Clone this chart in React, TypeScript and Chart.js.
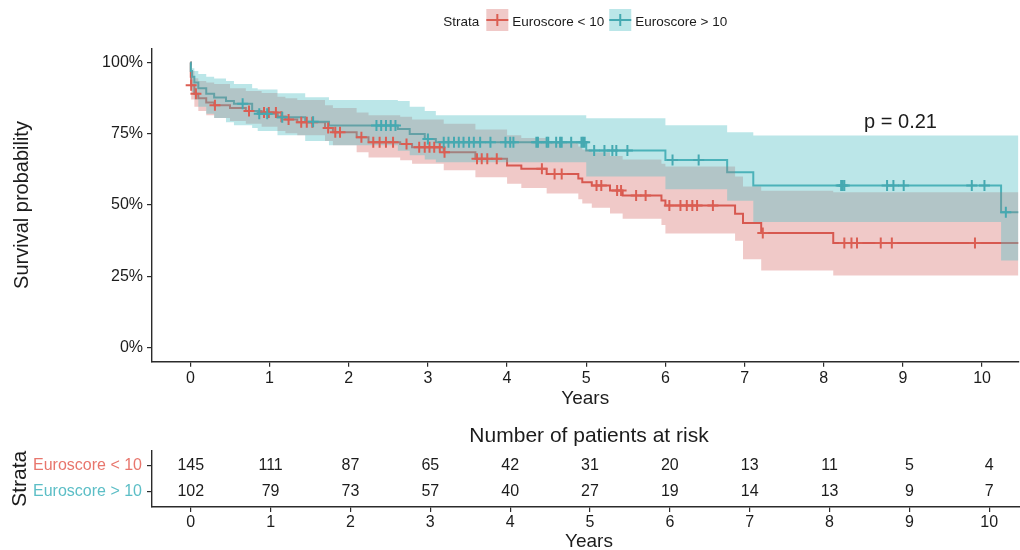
import React, { useEffect, useRef } from 'react';
import { Chart, registerables } from 'chart.js';

Chart.register(...registerables);

const FONT = '"Liberation Sans", Arial, Helvetica, sans-serif';

const strataLabels = ['Euroscore < 10', 'Euroscore > 10'];
const legendTitle = 'Strata';
const riskTitle = 'Number of patients at risk';
const xTitle = 'Years';
const yTitle = 'Survival probability';
const xTickValues = [0, 1, 2, 3, 4, 5, 6, 7, 8, 9, 10];
const yTickValues = [0, 0.25, 0.5, 0.75, 1];
const yTickLabels = ['0%', '25%', '50%', '75%', '100%'];

// Euroscore < 10 : Kaplan-Meier steps and confidence band
const redTimes = [0, 0.005, 0.01, 0.05, 0.1, 0.2, 0.3, 0.5, 0.7, 0.9, 1.1, 1.2, 1.35, 1.7, 1.8, 2.1, 2.25, 2.65, 2.8, 3.2, 3.6, 4.0, 4.18, 4.5, 4.9, 4.95, 5.07, 5.3, 5.46, 5.95, 6.0, 6.88, 6.98, 7.21, 8.12];
const redSurv = [1, 0.95, 0.92, 0.89, 0.875, 0.86, 0.85, 0.84, 0.83, 0.825, 0.81, 0.8, 0.79, 0.77, 0.755, 0.738, 0.72, 0.714, 0.703, 0.685, 0.662, 0.639, 0.627, 0.609, 0.593, 0.58, 0.568, 0.551, 0.533, 0.516, 0.498, 0.469, 0.437, 0.402, 0.367];
const redLower = [1, 0.9, 0.87, 0.845, 0.83, 0.815, 0.805, 0.795, 0.785, 0.775, 0.76, 0.752, 0.745, 0.725, 0.71, 0.685, 0.667, 0.657, 0.645, 0.622, 0.597, 0.575, 0.56, 0.54, 0.52, 0.505, 0.49, 0.47, 0.452, 0.43, 0.4, 0.375, 0.31, 0.27, 0.253];
const redUpper = [1, 0.99, 0.97, 0.945, 0.935, 0.93, 0.925, 0.91, 0.9, 0.893, 0.88, 0.875, 0.868, 0.85, 0.84, 0.825, 0.815, 0.81, 0.8, 0.785, 0.765, 0.745, 0.735, 0.72, 0.705, 0.695, 0.685, 0.672, 0.66, 0.645, 0.635, 0.6, 0.565, 0.55, 0.545];
const redCensorTimes = [0.01, 0.07, 0.31, 0.74, 0.93, 0.99, 1.08, 1.15, 1.24, 1.4, 1.47, 1.54, 1.74, 1.83, 1.89, 2.16, 2.31, 2.39, 2.47, 2.56, 2.73, 2.89, 2.96, 3.02, 3.08, 3.15, 3.21, 3.62, 3.68, 3.75, 3.87, 4.44, 4.6, 4.69, 5.13, 5.19, 5.39, 5.44, 5.63, 5.75, 6.05, 6.19, 6.27, 6.34, 6.4, 6.6, 7.23, 8.26, 8.35, 8.42, 8.72, 8.86, 9.91];

// Euroscore > 10
const tealTimes = [0, 0.005, 0.02, 0.05, 0.1, 0.2, 0.3, 0.45, 0.55, 0.78, 0.85, 1.1, 1.45, 1.75, 2.62, 2.77, 2.96, 3.1, 5.0, 6.0, 6.78, 7.11, 10.24];
const tealSurv = [1, 0.97, 0.95, 0.93, 0.91, 0.89, 0.877, 0.865, 0.855, 0.83, 0.82, 0.808, 0.792, 0.779, 0.767, 0.749, 0.732, 0.72, 0.691, 0.658, 0.615, 0.568, 0.475];
const tealLower = [1, 0.92, 0.895, 0.87, 0.845, 0.82, 0.805, 0.79, 0.78, 0.77, 0.76, 0.745, 0.725, 0.71, 0.69, 0.675, 0.66, 0.65, 0.6, 0.555, 0.515, 0.44, 0.305];
const tealUpper = [1, 0.99, 0.98, 0.97, 0.96, 0.95, 0.944, 0.935, 0.925, 0.91, 0.905, 0.892, 0.878, 0.868, 0.865, 0.845, 0.83, 0.815, 0.804, 0.78, 0.755, 0.744, 0.744];
const tealCensorTimes = [0.66, 0.87, 0.97, 1.16, 1.55, 2.35, 2.41, 2.47, 2.53, 2.59, 3.0, 3.2, 3.26, 3.33, 3.39, 3.45, 3.52, 3.58, 3.66, 3.79, 3.98, 4.04, 4.08, 4.37, 4.39, 4.5, 4.52, 4.62, 4.67, 4.69, 4.81, 4.94, 4.96, 4.98, 5.1, 5.23, 5.33, 5.38, 5.52, 6.09, 6.42, 8.22, 8.24, 8.26, 8.8, 8.88, 9.01, 9.87, 10.03, 10.3];

// Number at risk table
const riskTimes = [0, 1, 2, 3, 4, 5, 6, 7, 8, 9, 10];
const riskRed = [145, 111, 87, 65, 42, 31, 20, 13, 11, 5, 4];
const riskTeal = [102, 79, 73, 57, 40, 27, 19, 14, 13, 9, 7];

const pValueLabel = 'p = 0.21';
const pValueX = 8.97;
const pValueY = 0.79;

const xMin = -0.485;
const xMax = 10.46;

const RED = '#DB5E53';
const TEAL = '#45A9B1';
const RED_FILL = 'rgba(205,75,72,0.3)';
const TEAL_FILL = 'rgba(85,192,198,0.4)';
const RED_TEXT = '#E8766D';
const TEAL_TEXT = '#5CBEC6';
const AXIS = '#2b2b2b';
const TEXT = '#1c1c1c';

function survAt(times: number[], vals: number[], t: number) {
  let v = vals[0];
  for (let i = 0; i < times.length; i++) if (times[i] <= t) v = vals[i];
  return v;
}

function stepPts(times: number[], vals: number[]) {
  const pts = times.map((t, i) => ({ x: t, y: vals[i] }));
  pts.push({ x: xMax, y: vals[vals.length - 1] });
  return pts;
}

const axisGrid = { display: true, drawOnChartArea: false, drawTicks: true, tickLength: 5, color: AXIS, lineWidth: 1.2 };
const axisBorder = { display: true, color: AXIS, width: 1.4 };

export default function App() {
  const mainRef = useRef<HTMLCanvasElement>(null);
  const tableRef = useRef<HTMLCanvasElement>(null);

  useEffect(() => {
    document.body.style.margin = '0';
    Chart.defaults.font.family = FONT;
    Chart.defaults.color = TEXT;

    const lineDs = (ts: number[], vs: number[], color: string, order: number) => ({
      type: 'line', data: stepPts(ts, vs), borderColor: color, borderWidth: 2, stepped: 'before',
      pointRadius: 0, fill: false, order,
    });
    const lowerDs = (ts: number[], vs: number[], order: number) => ({
      type: 'line', data: stepPts(ts, vs), borderColor: 'rgba(0,0,0,0)', borderWidth: 0, stepped: 'before',
      pointRadius: 0, fill: false, order,
    });
    const upperDs = (ts: number[], vs: number[], target: number, color: string, order: number) => ({
      type: 'line', data: stepPts(ts, vs), borderColor: 'rgba(0,0,0,0)', borderWidth: 0, stepped: 'before',
      pointRadius: 0, fill: target, backgroundColor: color, order,
    });
    const censorDs = (ts: number[], vs: number[], ct: number[], color: string, order: number) => ({
      type: 'line', data: ct.map((t) => ({ x: t, y: survAt(ts, vs, t) })), showLine: false,
      pointStyle: 'cross', pointRadius: 5.5, pointBorderWidth: 2, pointBorderColor: color,
      pointBackgroundColor: color, borderColor: color, fill: false, order,
    });

    const decorPlugin = {
      id: 'kmDecor',
      afterDraw(chart: any) {
        const { ctx, scales, chartArea } = chart;
        ctx.save();
        // p-value
        ctx.font = `20px ${FONT}`;
        ctx.fillStyle = TEXT;
        ctx.textAlign = 'center';
        ctx.textBaseline = 'middle';
        ctx.fillText(pValueLabel, scales.x.getPixelForValue(pValueX), scales.y.getPixelForValue(pValueY));
        // legend
        ctx.font = `13.5px ${FONT}`;
        ctx.textAlign = 'left';
        ctx.textBaseline = 'alphabetic';
        const keyW = 22;
        const wT = ctx.measureText(legendTitle).width;
        const w1 = ctx.measureText(strataLabels[0]).width;
        const w2 = ctx.measureText(strataLabels[1]).width;
        const total = wT + 7 + keyW + 4 + w1 + 5 + keyW + 4 + w2;
        let x = (chartArea.left + chartArea.right) / 2 - total / 2;
        const cy = 20;
        const base = 26;
        ctx.fillText(legendTitle, x, base);
        x += wT + 7;
        const drawKey = (kx: number, fillC: string, lineC: string) => {
          ctx.fillStyle = fillC;
          ctx.fillRect(kx, cy - 11, keyW, keyW);
          ctx.strokeStyle = lineC;
          ctx.lineWidth = 2;
          ctx.beginPath();
          ctx.moveTo(kx, cy);
          ctx.lineTo(kx + keyW, cy);
          ctx.moveTo(kx + keyW / 2, cy - 6);
          ctx.lineTo(kx + keyW / 2, cy + 6);
          ctx.stroke();
        };
        drawKey(x, RED_FILL, RED);
        x += keyW + 4;
        ctx.fillStyle = TEXT;
        ctx.fillText(strataLabels[0], x, base);
        x += w1 + 5;
        drawKey(x, TEAL_FILL, TEAL);
        x += keyW + 4;
        ctx.fillStyle = TEXT;
        ctx.fillText(strataLabels[1], x, base);
        ctx.restore();
      },
    };

    const main = new Chart(mainRef.current as HTMLCanvasElement, {
      type: 'line',
      data: {
        datasets: [
          lineDs(redTimes, redSurv, RED, 7),
          lineDs(tealTimes, tealSurv, TEAL, 6),
          lowerDs(redTimes, redLower, 5),
          upperDs(redTimes, redUpper, 2, RED_FILL, 4),
          lowerDs(tealTimes, tealLower, 3),
          upperDs(tealTimes, tealUpper, 4, TEAL_FILL, 2),
          censorDs(redTimes, redSurv, redCensorTimes, RED, 1),
          censorDs(tealTimes, tealSurv, tealCensorTimes, TEAL, 0),
        ] as any,
      },
      options: {
        responsive: false,
        animation: false,
        devicePixelRatio: 1,
        events: [],
        layout: { padding: { top: 48.25, right: 0, bottom: 0, left: 0 } },
        plugins: { legend: { display: false }, tooltip: { enabled: false }, title: { display: false } },
        scales: {
          x: {
            type: 'linear', min: xMin, max: xMax,
            afterBuildTicks: (s: any) => { s.ticks = xTickValues.map((v) => ({ value: v })); },
            afterFit: (s: any) => { s.height = 58.25; },
            grid: axisGrid, border: axisBorder,
            ticks: { font: { size: 16 }, color: TEXT, padding: 2, maxRotation: 0, autoSkip: false },
            title: { display: true, text: xTitle, font: { size: 19 }, color: TEXT, padding: { top: 0, bottom: 10 } },
          },
          y: {
            type: 'linear', min: -0.05, max: 1.05,
            afterBuildTicks: (s: any) => { s.ticks = yTickValues.map((v) => ({ value: v })); },
            afterFit: (s: any) => { s.width = 152; },
            grid: axisGrid, border: axisBorder,
            ticks: { font: { size: 16 }, color: TEXT, padding: 4, callback: (_v: any, i: number) => yTickLabels[i] },
            title: { display: true, text: yTitle, font: { size: 20 }, color: TEXT, padding: { top: 10, bottom: 0 } },
          },
        } as any,
      },
      plugins: [decorPlugin],
    } as any);

    const riskPlugin = {
      id: 'riskText',
      afterDatasetsDraw(chart: any) {
        const { ctx, scales, chartArea } = chart;
        ctx.save();
        ctx.font = `16px ${FONT}`;
        ctx.fillStyle = TEXT;
        ctx.textAlign = 'center';
        ctx.textBaseline = 'middle';
        [riskRed, riskTeal].forEach((row, r) => {
          row.forEach((n, i) => {
            ctx.fillText(String(n), scales.x.getPixelForValue(riskTimes[i]), scales.y.getPixelForValue(r));
          });
        });
        ctx.font = `21px ${FONT}`;
        ctx.fillText(riskTitle, (chartArea.left + chartArea.right) / 2, 16);
        ctx.restore();
      },
    };

    const table = new Chart(tableRef.current as HTMLCanvasElement, {
      type: 'line',
      data: {
        datasets: [
          { data: riskTimes.map((t) => ({ x: t, y: 0 })), pointRadius: 0, showLine: false },
          { data: riskTimes.map((t) => ({ x: t, y: 1 })), pointRadius: 0, showLine: false },
        ],
      },
      options: {
        responsive: false,
        animation: false,
        devicePixelRatio: 1,
        events: [],
        layout: { padding: { top: 30.5, right: 0, bottom: 0, left: 0 } },
        plugins: { legend: { display: false }, tooltip: { enabled: false } },
        scales: {
          x: {
            type: 'linear', min: xMin, max: xMax,
            afterBuildTicks: (s: any) => { s.ticks = xTickValues.map((v) => ({ value: v })); },
            afterFit: (s: any) => { s.height = 43; },
            grid: axisGrid, border: axisBorder,
            ticks: { font: { size: 16 }, color: TEXT, padding: 1, maxRotation: 0, autoSkip: false },
            title: { display: true, text: xTitle, font: { size: 19 }, color: TEXT, padding: { top: 0, bottom: -2.9 } },
          },
          y: {
            type: 'linear', min: -0.6, max: 1.6, reverse: true,
            afterBuildTicks: (s: any) => { s.ticks = [0, 1].map((v) => ({ value: v })); },
            afterFit: (s: any) => { s.width = 152; },
            grid: axisGrid, border: axisBorder,
            ticks: {
              font: { size: 16 }, padding: 5,
              color: (c: any) => (c.index === 0 ? RED_TEXT : TEAL_TEXT),
              callback: (_v: any, i: number) => strataLabels[i],
            },
            title: { display: true, text: legendTitle, font: { size: 21 }, color: TEXT, padding: { top: 7.4, bottom: 0 } },
          },
        } as any,
      },
      plugins: [riskPlugin],
    } as any);

    return () => {
      main.destroy();
      table.destroy();
    };
  }, []);

  return (
    <div style={{ position: 'relative', width: 1020, height: 550, overflow: 'hidden', background: '#fff' }}>
      <canvas ref={mainRef} width={1026} height={420} style={{ position: 'absolute', left: 0, top: 0 }} />
      <canvas ref={tableRef} width={1026} height={130} style={{ position: 'absolute', left: 0, top: 420 }} />
    </div>
  );
}
